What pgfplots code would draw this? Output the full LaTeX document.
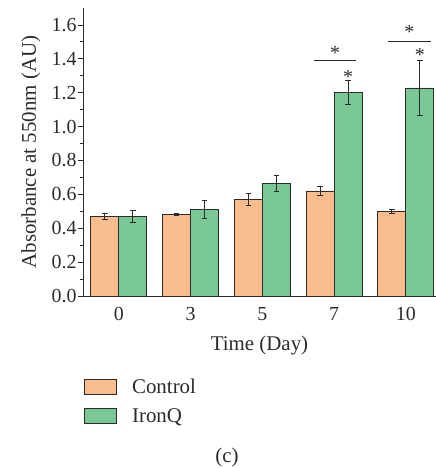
\documentclass[border=0pt]{standalone}
\usepackage{fontspec}
\setmainfont{Liberation Serif}
\usepackage{pgfplots}
\usepackage{pgfplotstable}
\pgfplotsset{compat=1.18}
\definecolor{ctrl}{HTML}{F9BC8C}
\definecolor{iron}{HTML}{79C896}
\definecolor{edge}{HTML}{2B2B2B}
\pgfplotstableread{
x c ce q qe
0 0.470 0.020 0.470 0.035
1 0.480 0.005 0.510 0.054
2 0.570 0.033 0.665 0.045
3 0.620 0.027 1.200 0.070
4 0.500 0.013 1.228 0.160
}\data
\begin{document}
\begin{tikzpicture}[font=\fontsize{21}{25}\selectfont]
\begin{axis}[
  at={(0,0)}, anchor=south west,
  scale only axis, width=353bp, height=288bp,
  xmin=-0.5, xmax=4.42, ymin=0, ymax=1.7,
  axis x line*=bottom, axis y line*=left,
  axis line style={-, draw=edge, line width=0.9bp},
  xtick={0,1,2,3,4}, xticklabels={0,3,5,7,10},
  x tick style={draw=none},
  ytick={0,0.2,...,1.6}, minor ytick={0.1,0.3,...,1.5},
  tick align=outside, major tick length=5bp, minor tick length=3bp,
  y tick style={draw=edge, line width=0.8bp},
  /pgf/number format/assume math mode=true,
  tick label style={font=\fontsize{20}{23}\selectfont, text=edge},
  y tick label style={xshift=2bp, /pgf/number format/.cd, fixed, fixed zerofill, precision=1},
  x tick label style={yshift=-3bp},
  ylabel={Absorbance at 550nm (AU)}, xlabel={Time (Day)},
  label style={text=edge},
  ylabel style={at={(axis description cs:-0.148,0.5)}, anchor=center},
  xlabel style={at={(axis description cs:0.5,0)}, anchor=center, yshift=-49bp},
  legend style={at={(0,0)}, anchor=north west, xshift=-2bp, yshift=-79bp,
    draw=none, fill=none, row sep=9bp, font=\fontsize{21}{25}\selectfont, text=edge,
    /tikz/every odd column/.append style={column sep=13bp}},
  legend cell align=left,
  clip=false,
]
\addplot[ybar, bar width=28bp, bar shift=0pt, fill=ctrl, draw=edge, line width=0.9bp,
  error bars/.cd, y dir=both, y explicit,
  error bar style={draw=edge, line width=0.9bp},
  error mark options={draw=edge, line width=0.9bp, mark size=2.8bp, rotate=90},
  /pgfplots/legend image code/.code={\draw[fill=ctrl, draw=edge, line width=0.9bp] (0bp,-7.5bp) rectangle (32bp,7.5bp);}]
  table[x expr=\thisrow{x}-0.1951, y=c, y error=ce]{\data};
\addlegendentry{Control}
\addplot[ybar, bar width=28bp, bar shift=0pt, fill=iron, draw=edge, line width=0.9bp,
  error bars/.cd, y dir=both, y explicit,
  error bar style={draw=edge, line width=0.9bp},
  error mark options={draw=edge, line width=0.9bp, mark size=2.8bp, rotate=90},
  /pgfplots/legend image code/.code={\draw[fill=iron, draw=edge, line width=0.9bp] (0bp,-7.5bp) rectangle (32bp,7.5bp);}]
  table[x expr=\thisrow{x}+0.1951, y=q, y error=qe]{\data};
\addlegendentry{IronQ}
\addplot[draw=edge, line width=0.9bp, forget plot] coordinates {(2.72,1.39) (3.31,1.39)};
\addplot[draw=edge, line width=0.9bp, forget plot] coordinates {(3.75,1.505) (4.35,1.505)};
\node[text=edge, font=\fontsize{20}{20}\selectfont] at (axis cs:3.195,1.295) {*};
\node[text=edge, font=\fontsize{20}{20}\selectfont] at (axis cs:3.015,1.435) {*};
\node[text=edge, font=\fontsize{20}{20}\selectfont] at (axis cs:4.195,1.42) {*};
\node[text=edge, font=\fontsize{20}{20}\selectfont] at (axis cs:4.05,1.56) {*};
\end{axis}
\node[text=edge] at (144bp,-161bp) {(c)};
\pgfresetboundingbox
\path[use as bounding box] (-83bp,-172bp) rectangle (353bp,296bp);
\end{tikzpicture}
\end{document}
